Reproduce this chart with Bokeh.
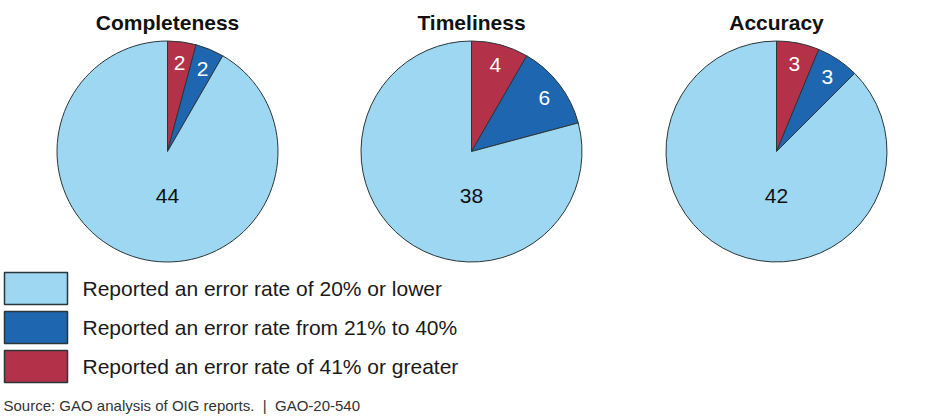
import math
from bokeh.plotting import figure
from bokeh.models import Range1d, ColumnDataSource
from bokeh.core.properties import value
from bokeh.embed import file_html
from bokeh.resources import INLINE

# ---- data ----
panels = ["Completeness", "Timeliness", "Accuracy"]
high_err = [2, 4, 3]      # 41% or greater
mid_err = [2, 6, 3]       # 21% to 40%
low_err = [44, 38, 42]    # 20% or lower
legend_labels = [
    "Reported an error rate of 20% or lower",
    "Reported an error rate from 21% to 40%",
    "Reported an error rate of 41% or greater",
]
source_note = "Source: GAO analysis of OIG reports.\u00a0 |\u00a0 GAO-20-540"

# ---- style ----
C_LOW = "#9dd7f2"
C_MID = "#1f66b1"
C_HIGH = "#b3324a"
EDGE = "#2b3638"
FONT = "Liberation Sans"

W, H = 937, 415
OX, OY = 0, H  # image -> data: x = X - OX, y = OY - Y

def dx(X):
    return X - OX

def dy(Y):
    return OY - Y

p = figure(width=W, height=H, output_backend="svg", toolbar_location=None,
           x_range=Range1d(0, W), y_range=Range1d(0, H), min_border=0)
p.axis.visible = False
p.grid.visible = False
p.outline_line_color = None
p.background_fill_color = "white"
p.border_fill_color = "white"

centers_x = [167, 471, 776]
center_y = 151
R = 110.5

for i, name in enumerate(panels):
    vals = [high_err[i], mid_err[i], low_err[i]]
    cols = [C_HIGH, C_MID, C_LOW]
    tcols = ["white", "white", "#111111"]
    total = sum(vals)
    cx, cy = dx(centers_x[i]), dy(center_y)
    cum = 0.0
    starts, ends, lx, ly, txt = [], [], [], [], []
    for k, v in enumerate(vals):
        a0 = cum / total * 2 * math.pi
        cum += v
        a1 = cum / total * 2 * math.pi
        # clockwise from 12 o'clock -> bokeh anticlock angles
        starts.append(math.pi / 2 - a1)
        ends.append(math.pi / 2 - a0)
        if k < 2:
            mid = (a0 + a1) / 2
            r = 0.83 * R
            lx.append(cx + r * math.sin(mid))
            ly.append(cy + r * math.cos(mid) - 2)
        else:
            lx.append(cx)
            ly.append(cy - 0.4 * R)
        txt.append(str(v))
    src = ColumnDataSource(dict(x=[cx] * 3, y=[cy] * 3, s=starts, e=ends, c=cols))
    p.wedge(x="x", y="y", radius=R, start_angle="s", end_angle="e",
            fill_color="c", line_color=EDGE, line_width=1, source=src)
    lsrc = ColumnDataSource(dict(x=lx, y=ly, t=txt, c=tcols))
    p.text(x="x", y="y", text="t", text_color="c", source=lsrc,
           text_font=value(FONT), text_font_size="21px",
           text_align="center", text_baseline="middle")
    p.text(x=[cx], y=[dy(22)], text=[name], text_font=value(FONT),
           text_font_size="21px", text_font_style="bold", text_color="#111111",
           text_align="center", text_baseline="middle")

# legend
box_top = [272, 311, 350]
leg_cols = [C_LOW, C_MID, C_HIGH]
for j, lab in enumerate(legend_labels):
    t = box_top[j]
    p.quad(left=dx(4), right=dx(67), top=dy(t), bottom=dy(t + 32),
           fill_color=leg_cols[j], line_color=EDGE, line_width=1.5)
    p.text(x=[dx(82)], y=[dy(t + 16)], text=[lab], text_font=value(FONT),
           text_font_size="21px", text_color="#1a1a1a",
           text_align="left", text_baseline="middle")

p.text(x=[dx(3)], y=[dy(405)], text=[source_note], text_font=value(FONT),
       text_font_size="15px", text_color="#333333",
       text_align="left", text_baseline="middle")

open("out.html", "w").write(file_html(p, INLINE))
